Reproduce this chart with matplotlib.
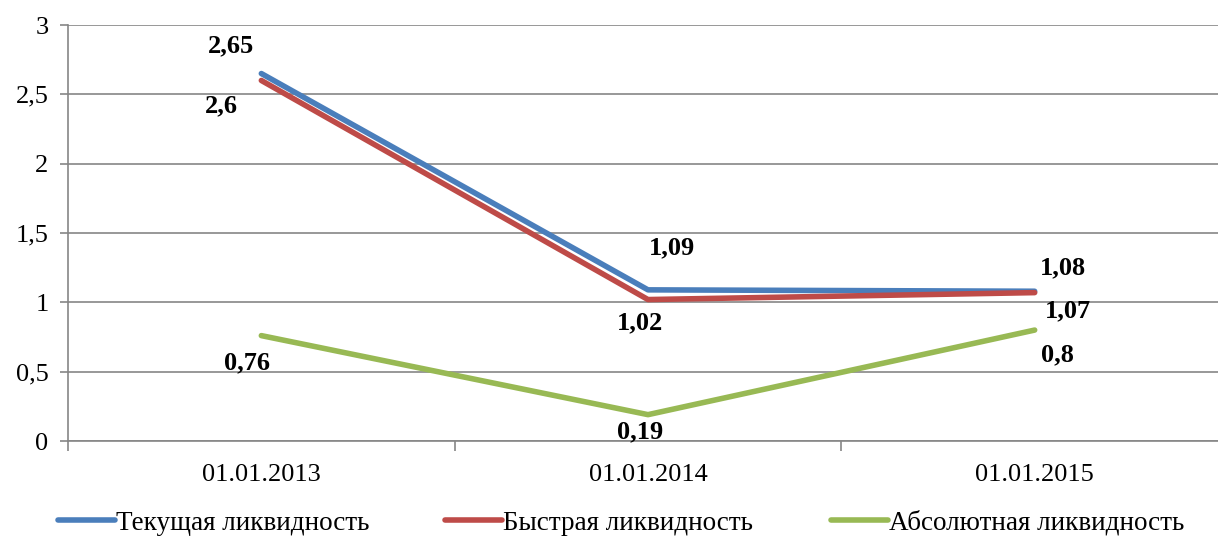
import matplotlib
matplotlib.use("Agg")
import matplotlib.pyplot as plt
from matplotlib.lines import Line2D
from matplotlib.ticker import FuncFormatter, FixedLocator

plt.rcParams['font.family'] = ['Liberation Serif', 'DejaVu Serif']

dates = ["01.01.2013", "01.01.2014", "01.01.2015"]
current = [2.65, 1.09, 1.08]
quick = [2.6, 1.02, 1.07]
absolute = [0.76, 0.19, 0.8]
names = ["Текущая ликвидность", "Быстрая ликвидность", "Абсолютная ликвидность"]
colors = ["#4A7EBB", "#BE4B48", "#98B954"]

# label offsets in pixels (dx, dy) for each series / point
offsets = [
    [(-30, 28), (24, 42), (28, 23)],
    [(-40, -25), (-8, -23), (33, -18)],
    [(-14, -27), (-8, -17), (23, -25)],
]

W, H = 1218, 537
fig = plt.figure(figsize=(W / 100, H / 100), dpi=100)
ax = fig.add_axes([68 / W, 1 - 441 / H, 1160 / W, 416 / H])

x = list(range(len(dates)))
series = [current, quick, absolute]
for vals, c, off in zip(series, colors, offsets):
    ax.plot(x, vals, color=c, lw=4.0, solid_capstyle='round', zorder=3)
    for xi, v, (dx, dy) in zip(x, vals, off):
        ax.annotate(f"{v:g}".replace('.', ','), (xi, v), xytext=(dx, dy),
                    textcoords='offset pixels', ha='center', va='center',
                    fontsize=19, fontweight='bold', zorder=4)

ax.set_xlim(-0.5, 2.5)
ax.set_ylim(0, 3)
ax.set_yticks([0, 0.5, 1, 1.5, 2, 2.5, 3])
ax.yaxis.set_major_formatter(FuncFormatter(lambda v, p: f"{v:g}".replace('.', ',')))
ax.grid(axis='y', color='#868686', lw=1.2)
ax.set_axisbelow(True)

ax.set_xticks(x)
ax.set_xticklabels(dates)
ax.xaxis.set_minor_locator(FixedLocator([-0.5, 0.5, 1.5]))
ax.tick_params(axis='x', which='major', length=0, pad=16.5, labelsize=19)
ax.tick_params(axis='x', which='minor', length=7, color='#868686', width=1.2)
ax.tick_params(axis='y', length=6, color='#868686', width=1.2, labelsize=19, pad=8)

for s in ['top', 'right']:
    ax.spines[s].set_visible(False)
ax.spines['left'].set_color('#868686')
ax.spines['left'].set_linewidth(1.2)
ax.spines['bottom'].set_color('#868686')
ax.spines['bottom'].set_linewidth(1.2)

lx = [58, 445, 831]
for name, c, px in zip(names, colors, lx):
    h = Line2D([], [], color=c, lw=4.0, solid_capstyle='round')
    fig.legend([h], [name], loc='center left', bbox_to_anchor=(px / W, 1 - 523 / H),
               frameon=False, fontsize=19.5, handlelength=2.1, handletextpad=0.05,
               borderpad=0, borderaxespad=0)

fig.savefig("out.png", dpi=100)
